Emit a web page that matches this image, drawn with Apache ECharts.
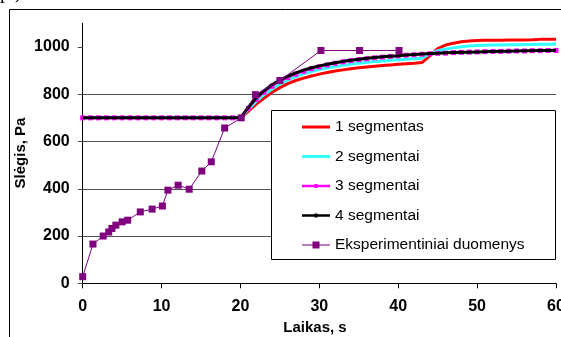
<!DOCTYPE html>
<html>
<head>
<meta charset="utf-8">
<script src="https://cdn.jsdelivr.net/npm/echarts@6/dist/echarts.min.js"></script>
<style>
html,body{margin:0;padding:0;background:#fff;}
#c{width:561px;height:337px;}
</style>
</head>
<body>
<div id="c"></div>
<script>
// ---- data ----
var seriesNames = ['1 segmentas', '2 segmentai', '3 segmentai', '4 segmentai', 'Eksperimentiniai duomenys'];
var yTicks = [0, 200, 400, 600, 800, 1000];
var xTicks = [0, 10, 20, 30, 40, 50, 60];

var tSim = [0,1,2,3,4,5,6,7,8,9,10,11,12,13,14,15,16,17,18,19,20,
  21,22,23,24,25,26,27,28,29,30,31,32,33,34,35,36,37,38,39,40,
  41,42,43,44,45,46,47,48,49,50,51,52,53,54,55,56,57,58,59,60];

var seg1 = [700,700,700,700,700,700,700,700,700,700,700,700,700,700,700,700,700,700,700,700,700,
  728,758,784,808,828,845,858,868,877,885,892,898,903,908,912,915,918,921,924,927,
  929,931,934,962,993,1008,1016,1022,1025,1027,1028,1028,1028,1029,1029,1029,1030,1032,1032,1032];

var seg2 = [700,700,700,700,700,700,700,700,700,700,700,700,700,700,700,700,700,700,700,700,700,
  736,770,798,822,843,860,874,886,896,904,911,917,922,927,931,935,938,941,944,946,
  948,950,952,970,984,991,996,1001,1004,1006,1007,1008,1008,1009,1009,1010,1010,1011,1011,1012];

var seg3 = [700,700,700,700,700,700,700,700,700,700,700,700,700,700,700,700,700,700,700,700,700,
  740,778,808,834,854,870,885,897,908,916,924,931,937,942,946,950,954,957,960,962,
  965,967,969,971,973,974,976,977,978,979,980,981,981,982,983,983,984,984,985,985];

var seg4 = [700,700,700,700,700,700,700,700,700,700,700,700,700,700,700,700,700,700,700,700,700,
  745,785,815,840,860,876,890,902,912,920,927,933,939,944,948,952,955,958,961,963,
  966,968,970,972,973,975,976,977,978,979,980,981,982,982,983,984,984,985,985,986];

var tExp = [0, 1.3, 2.6, 3.3, 3.7, 4.2, 5.0, 5.7, 7.3, 8.8, 10.1, 10.8, 12.1, 13.5, 15.1, 16.3, 18.0, 20.1, 21.9, 25.0, 30.2, 35.1, 40.1];
var pExp = [28, 166, 200, 217, 232, 246, 260, 267, 302, 314, 327, 394, 415, 398, 475, 514, 657, 700, 798, 858, 985, 985, 985];

var colors = ['#ff0000', '#33ffff', '#ff00ff', '#000000', '#800080'];

function zip(xs, ys) { return xs.map(function (x, i) { return [x, ys[i]]; }); }

var font = 'Liberation Sans, Arial, sans-serif';

var chart = echarts.init(document.getElementById('c'), null, {renderer: 'canvas'});
chart.setOption({
  animation: false,
  backgroundColor: '#ffffff',
  grid: {left: 82.7, right: 5, top: 23.3, bottom: 53.7, containLabel: false, outerBoundsMode: 'none'},
  xAxis: {
    type: 'value', min: 0, max: 60, interval: 10,
    axisLine: {show: true, onZero: false, lineStyle: {color: '#000', width: 1}},
    axisTick: {show: true, inside: false, length: 5, lineStyle: {color: '#000'}},
    axisLabel: {margin: 15, fontFamily: font, fontSize: 16, fontWeight: 'bold', color: '#000', showMaxLabel: true, hideOverlap: false},
    splitLine: {show: false}
  },
  yAxis: {
    type: 'value', min: 0, max: 1100, interval: 200,
    axisLine: {show: true, onZero: false, lineStyle: {color: '#000', width: 1}},
    axisTick: {show: true, inside: false, length: 5, lineStyle: {color: '#505050'}, customValues: yTicks},
    axisLabel: {margin: 13, fontFamily: font, fontSize: 16, fontWeight: 'bold', color: '#000', customValues: yTicks,
      formatter: function (v) { return v > 1000 ? '' : String(v); }},
    splitLine: {show: true, showMaxLine: false, showMinLine: false, lineStyle: {color: '#505050', width: 1}}
  },
  legend: {
    orient: 'vertical', left: 302, top: 118, padding: 0, z: 30,
    itemWidth: 28, itemHeight: 9, itemGap: 11.5,
    textStyle: {fontFamily: font, fontSize: 15.5, color: '#000', lineHeight: 18},
    data: [
      {name: seriesNames[0], icon: 'path://M0,0h28v3h-28z'},
      {name: seriesNames[1], icon: 'path://M0,0h28v3h-28z'},
      {name: seriesNames[2], icon: 'path://M0,1h28v2.4h-28z M12.5,0.2h3v4h-3z'},
      {name: seriesNames[3], icon: 'path://M0,1h28v2.4h-28z M12.5,0.2h3v4h-3z'},
      {name: seriesNames[4], icon: 'path://M0,3h28v1h-28z M10.5,0h7v7h-7z'}
    ]
  },
  graphic: [
    {type: 'rect', z: 0, shape: {x: 9.5, y: 9.5, width: 700, height: 500}, style: {fill: 'none', stroke: '#000', lineWidth: 1}},
    {type: 'rect', z: 20, shape: {x: 271.5, y: 110.5, width: 284, height: 149}, style: {fill: '#fff', stroke: '#000', lineWidth: 1}},
    {type: 'text', z: 60, left: 0, top: -17, style: {text: 'p.)', font: '20px "Liberation Serif", serif', fill: '#000'}},
    {type: 'text', z: 60, x: 21, y: 153, rotation: Math.PI / 2, style: {text: 'Slėgis, Pa', font: 'bold 15px "Liberation Sans", Arial, sans-serif', fill: '#000', align: 'center', verticalAlign: 'middle'}},
    {type: 'text', z: 60, x: 315, y: 328, style: {text: 'Laikas, s', font: 'bold 15px "Liberation Sans", Arial, sans-serif', fill: '#000', align: 'center', verticalAlign: 'middle'}}
  ],
  series: [
    {name: seriesNames[0], type: 'line', data: zip(tSim, seg1), symbol: 'none', z: 2,
      lineStyle: {color: colors[0], width: 3}, itemStyle: {color: colors[0]}},
    {name: seriesNames[1], type: 'line', data: zip(tSim, seg2), symbol: 'none', z: 3,
      lineStyle: {color: colors[1], width: 3}, itemStyle: {color: colors[1]}},
    {name: seriesNames[2], type: 'line', data: zip(tSim, seg3), symbol: 'rect', symbolSize: 5, showSymbol: true, z: 4,
      lineStyle: {color: colors[2], width: 2}, itemStyle: {color: colors[2]}},
    {name: seriesNames[3], type: 'line', data: zip(tSim, seg4), symbol: 'circle', symbolSize: 3, showSymbol: false, z: 5,
      lineStyle: {color: colors[3], width: 3}, itemStyle: {color: colors[3]}},
    {name: seriesNames[4], type: 'line', data: zip(tExp, pExp), symbol: 'rect', symbolSize: 7, z: 6,
      lineStyle: {color: colors[4], width: 1}, itemStyle: {color: colors[4]}}
  ]
});
</script>
</body>
</html>
